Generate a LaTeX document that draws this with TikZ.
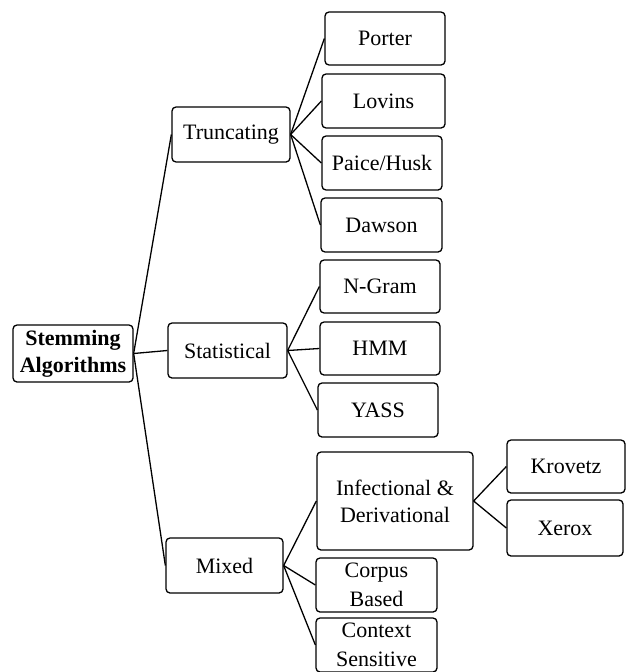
\documentclass[tikz,border=0pt]{standalone}
\usepackage{fontspec}
\setmainfont{Liberation Serif}
\usetikzlibrary{positioning}

\begin{document}
\begin{tikzpicture}[x=1pt, y=-1pt, line width=1.3pt,
  box/.style={draw, rounded corners=4pt, inner sep=0pt, align=center,
    minimum width=120pt, minimum height=54pt,
    font=\fontsize{22}{27}\selectfont}]
  \useasboundingbox (0,0) rectangle (631,672);

  % Root
  \node[box, minimum height=57pt, font=\fontsize{22}{27}\selectfont\bfseries] (stem) at (73,353.5) {Stemming\\Algorithms};

  % Categories
  \node[box, minimum width=118pt, minimum height=55pt] (trunc) at (231,134.5) {Truncating};
  \node[box, minimum width=119pt, minimum height=55pt] (stat) at (227.5,350.5) {Statistical};
  \node[box, minimum width=117pt, minimum height=55pt] (mixed) at (224.5,565.5) {Mixed};

  % Truncating methods
  \node[box, minimum height=53pt] (porter) at (385,38.5) {Porter};
  \node[box, minimum width=123pt] (lovins) at (383.5,101) {Lovins};
  \node[box] (paice) at (382,163) {Paice/Husk};
  \node[box, minimum width=121pt] (dawson) at (381.5,225) {Dawson};

  % Statistical methods
  \node[box, minimum height=53pt] (ngram) at (380,286.5) {N-Gram};
  \node[box, minimum height=53pt] (hmm) at (380,348.5) {HMM};
  \node[box] (yass) at (378,410) {YASS};

  % Mixed methods
  \node[box, minimum width=156pt, minimum height=98pt] (infl) at (395,501) {Infectional \&\\Derivational};
  \node[box, minimum width=121pt, font=\fontsize{22}{29}\selectfont] (corpus) at (376.5,585) {Corpus\\Based};
  \node[box, minimum width=121pt, font=\fontsize{22}{29}\selectfont] (context) at (376.5,645) {Context\\Sensitive};
  \node[box, minimum width=118pt, minimum height=53pt] (krovetz) at (566,466.5) {Krovetz};
  \node[box, minimum width=116pt, minimum height=56pt] (xerox) at (565,528) {Xerox};

  % Connections
  \foreach \c in {trunc, stat, mixed}
    \draw (stem.east) -- (\c.west);
  \foreach \c in {porter, lovins, paice, dawson}
    \draw (trunc.east) -- (\c.west);
  \foreach \c in {ngram, hmm, yass}
    \draw (stat.east) -- (\c.west);
  \foreach \c in {infl, corpus, context}
    \draw (mixed.east) -- (\c.west);
  \foreach \c in {krovetz, xerox}
    \draw (infl.east) -- (\c.west);
\end{tikzpicture}
\end{document}
